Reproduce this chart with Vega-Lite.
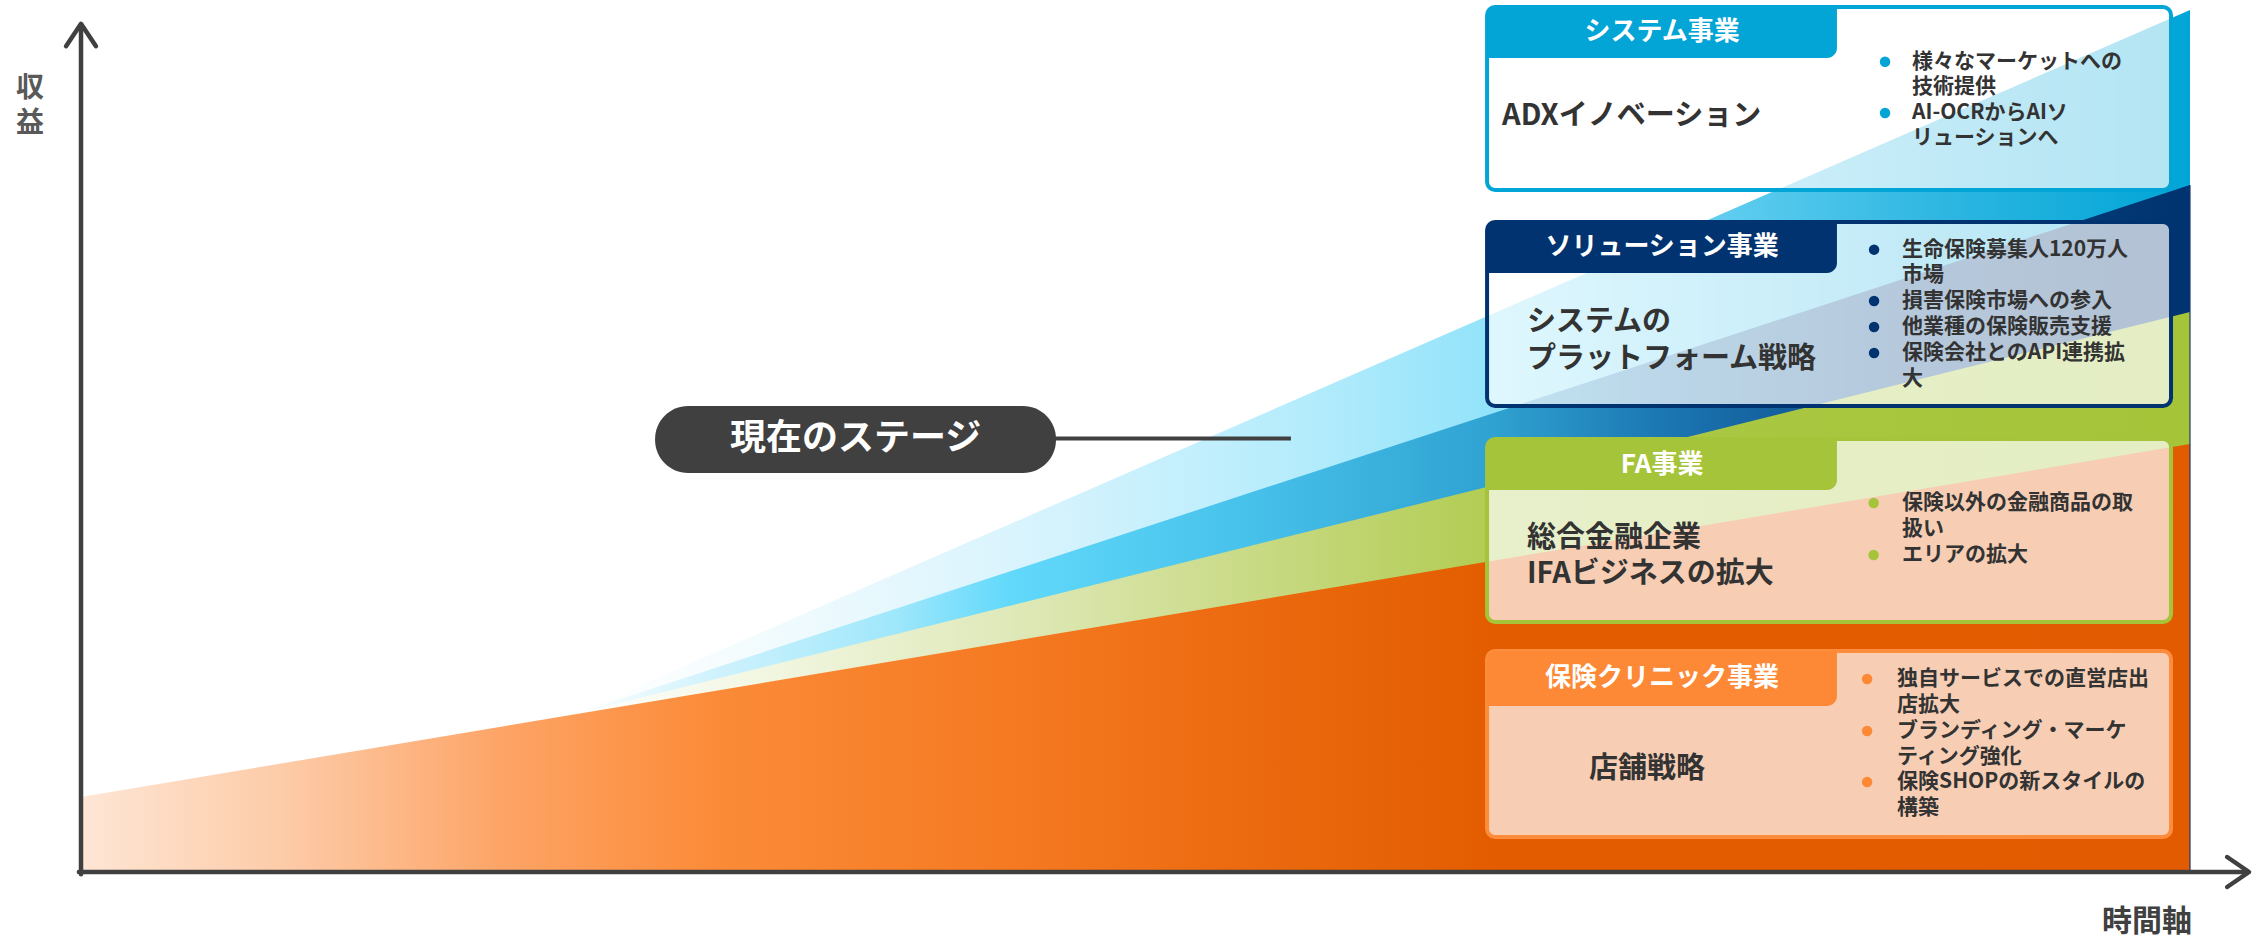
{
  "$schema": "https://vega.github.io/schema/vega-lite/v6.json",
  "width": 2109,
  "height": 862,
  "padding": {"left": 81, "top": 10, "right": 69, "bottom": 67},
  "autosize": {"type": "none"},
  "background": "white",
  "config": {"view": {"stroke": null}},
  "datasets": {
    "cyan": [{"u": 23.3, "v": 18.25, "v2": 0}, {"u": 100, "v": 100, "v2": 0}],
    "blue": [{"u": 23.3, "v": 18.25, "v2": 0}, {"u": 100, "v": 79.7, "v2": 0}],
    "green": [{"u": 23.3, "v": 18.25, "v2": 0}, {"u": 100, "v": 64.97, "v2": 0}],
    "orange": [{"u": 0, "v": 8.7, "v2": 0}, {"u": 100, "v": 49.65, "v2": 0}],
    "edge": [{"u": 100, "v": 0, "v2": 79.7}],
    "axes": [
      {"g": "ya", "i": 0, "u": 0, "v": -0.25},
      {"g": "ya", "i": 1, "u": 0, "v": 98.3},
      {"g": "yh", "i": 0, "u": -0.71, "v": 95.8},
      {"g": "yh", "i": 1, "u": 0, "v": 98.4},
      {"g": "yh", "i": 2, "u": 0.71, "v": 95.8},
      {"g": "xa", "i": 0, "u": -0.1, "v": 0},
      {"g": "xa", "i": 1, "u": 102.75, "v": 0},
      {"g": "xh", "i": 0, "u": 101.76, "v": 1.74},
      {"g": "xh", "i": 1, "u": 102.8, "v": 0},
      {"g": "xh", "i": 2, "u": 101.76, "v": -1.74}
    ],
    "pill": [{"u": 27.22, "u2": 46.23, "v": 54.06, "v2": 46.29}],
    "connector": [{"u": 46.0, "u2": 57.37, "v": 50.3}],
    "pilltext": [{"u": 36.73, "v": 50.2, "text": "現在のステージ"}],
    "boxes": [
      {"biz": "system", "u": 66.67, "u2": 99.1, "v": 100.35, "v2": 79.12},
      {"biz": "solution", "u": 66.67, "u2": 99.1, "v": 75.41, "v2": 54.06},
      {"biz": "fa", "u": 66.67, "u2": 99.1, "v": 50.23, "v2": 29.0},
      {"biz": "clinic", "u": 66.67, "u2": 99.1, "v": 25.64, "v2": 4.06}
    ],
    "tabs": [
      {"biz": "system", "u": 66.67, "u2": 83.26, "v": 100.35, "v2": 94.43},
      {"biz": "solution", "u": 66.67, "u2": 83.26, "v": 75.41, "v2": 69.49},
      {"biz": "fa", "u": 66.67, "u2": 83.26, "v": 50.23, "v2": 44.32},
      {"biz": "clinic", "u": 66.67, "u2": 83.26, "v": 25.64, "v2": 19.26}
    ],
    "titles": [
      {"u": 74.97, "v": 97.45, "text": "システム事業"},
      {"u": 74.97, "v": 72.45, "text": "ソリューション事業"},
      {"u": 74.97, "v": 47.27, "text": "FA事業"},
      {"u": 74.97, "v": 22.45, "text": "保険クリニック事業"}
    ],
    "mains": [
      {"u": 67.38, "v": 87.7, "text": "ADXイノベーション"},
      {"u": 68.56, "v": 63.75, "text": "システムの"},
      {"u": 68.56, "v": 59.55, "text": "プラットフォーム戦略"},
      {"u": 68.56, "v": 38.7, "text": "総合金融企業"},
      {"u": 68.56, "v": 34.6, "text": "IFAビジネスの拡大"},
      {"u": 71.5, "v": 11.95, "text": "店舗戦略"}
    ],
    "dots": [
      {"biz": "system", "u": 85.54, "v": 94.0},
      {"biz": "system", "u": 85.54, "v": 88.05},
      {"biz": "solution", "u": 85.02, "v": 72.2},
      {"biz": "solution", "u": 85.02, "v": 66.24},
      {"biz": "solution", "u": 85.02, "v": 63.23},
      {"biz": "solution", "u": 85.02, "v": 60.21},
      {"biz": "fa", "u": 85.0, "v": 42.81},
      {"biz": "fa", "u": 85.0, "v": 36.77},
      {"biz": "clinic", "u": 84.69, "v": 22.39},
      {"biz": "clinic", "u": 84.69, "v": 16.36},
      {"biz": "clinic", "u": 84.69, "v": 10.44}
    ],
    "bullets": [
      {"u": 86.82, "v": 94.0, "text": "様々なマーケットへの"},
      {"u": 86.82, "v": 91.1, "text": "技術提供"},
      {"u": 86.82, "v": 88.05, "text": "AI-OCRからAIソ"},
      {"u": 86.82, "v": 85.1, "text": "リューションへ"},
      {"u": 86.34, "v": 72.2, "text": "生命保険募集人120万人"},
      {"u": 86.34, "v": 69.26, "text": "市場"},
      {"u": 86.34, "v": 66.24, "text": "損害保険市場への参入"},
      {"u": 86.34, "v": 63.23, "text": "他業種の保険販売支援"},
      {"u": 86.34, "v": 60.21, "text": "保険会社とのAPI連携拡"},
      {"u": 86.34, "v": 57.25, "text": "大"},
      {"u": 86.34, "v": 42.81, "text": "保険以外の金融商品の取"},
      {"u": 86.34, "v": 39.75, "text": "扱い"},
      {"u": 86.34, "v": 36.77, "text": "エリアの拡大"},
      {"u": 86.11, "v": 22.39, "text": "独自サービスでの直営店出"},
      {"u": 86.11, "v": 19.35, "text": "店拡大"},
      {"u": 86.11, "v": 16.36, "text": "ブランディング・マーケ"},
      {"u": 86.11, "v": 13.38, "text": "ティング強化"},
      {"u": 86.11, "v": 10.44, "text": "保険SHOPの新スタイルの"},
      {"u": 86.11, "v": 7.42, "text": "構築"}
    ],
    "ylabel": [
      {"u": -2.42, "v": 90.85, "text": "収"},
      {"u": -2.42, "v": 86.75, "text": "益"}
    ],
    "xlabel": [{"u": 97.96, "v": -5.8, "text": "時間軸"}]
  },
  "encoding": {
    "x": {"field": "u", "type": "quantitative", "scale": {"domain": [0, 100], "nice": false, "zero": false}, "axis": null},
    "y": {"field": "v", "type": "quantitative", "scale": {"domain": [0, 100], "nice": false, "zero": false}, "axis": null, "stack": null}
  },
  "layer": [
    {
      "data": {"name": "cyan"},
      "mark": {"type": "area", "interpolate": "linear", "color": {"gradient": "linear", "x1": 0, "x2": 1, "y1": 0, "y2": 0, "stops": [
        {"offset": 0, "color": "#ffffff"},
        {"offset": 0.1, "color": "#f5fcfe"},
        {"offset": 0.27, "color": "#daf4fd"},
        {"offset": 0.45, "color": "#b5ecfc"},
        {"offset": 0.57, "color": "#92e3fa"},
        {"offset": 0.71, "color": "#5fcdf0"},
        {"offset": 0.85, "color": "#2db6e1"},
        {"offset": 1, "color": "#00a5d6"}
      ]}},
      "encoding": {"y2": {"field": "v2"}}
    },
    {
      "data": {"name": "blue"},
      "mark": {"type": "area", "interpolate": "linear", "color": {"gradient": "linear", "x1": 0, "x2": 1, "y1": 0, "y2": 0, "stops": [
        {"offset": 0, "color": "#ffffff"},
        {"offset": 0.08, "color": "#d3f3fd"},
        {"offset": 0.2, "color": "#9fe7fb"},
        {"offset": 0.27, "color": "#62d9fb"},
        {"offset": 0.42, "color": "#46c1ea"},
        {"offset": 0.57, "color": "#2fa2d1"},
        {"offset": 0.67, "color": "#1c78b3"},
        {"offset": 0.8, "color": "#0d4f8e"},
        {"offset": 0.92, "color": "#033b78"},
        {"offset": 1, "color": "#00336f"}
      ]}},
      "encoding": {"y2": {"field": "v2"}}
    },
    {
      "data": {"name": "green"},
      "mark": {"type": "area", "interpolate": "linear", "color": {"gradient": "linear", "x1": 0, "x2": 1, "y1": 0, "y2": 0, "stops": [
        {"offset": 0, "color": "#ffffff"},
        {"offset": 0.1, "color": "#f4f8e6"},
        {"offset": 0.27, "color": "#dfe9b9"},
        {"offset": 0.42, "color": "#c9da85"},
        {"offset": 0.57, "color": "#b2cc52"},
        {"offset": 0.75, "color": "#a8c63f"},
        {"offset": 1, "color": "#a5c438"}
      ]}},
      "encoding": {"y2": {"field": "v2"}}
    },
    {
      "data": {"name": "orange"},
      "mark": {"type": "area", "interpolate": "linear", "color": {"gradient": "linear", "x1": 0, "x2": 1, "y1": 0, "y2": 0, "stops": [
        {"offset": 0, "color": "#fee6d5"},
        {"offset": 0.1, "color": "#fdcaa6"},
        {"offset": 0.2, "color": "#fda466"},
        {"offset": 0.3, "color": "#fb8b38"},
        {"offset": 0.44, "color": "#f57a22"},
        {"offset": 0.55, "color": "#ec6a10"},
        {"offset": 0.67, "color": "#e35d00"},
        {"offset": 1, "color": "#e35b00"}
      ]}},
      "encoding": {"y2": {"field": "v2"}}
    },
    {
      "data": {"name": "edge"},
      "mark": {"type": "rule", "color": "#1a3a6e", "strokeWidth": 1.2},
      "encoding": {"y2": {"field": "v2"}}
    },
    {
      "data": {"name": "axes"},
      "mark": {"type": "line", "color": "#404040", "strokeWidth": 4.5, "strokeCap": "round", "strokeJoin": "round"},
      "encoding": {"detail": {"field": "g"}, "order": {"field": "i"}}
    },
    {
      "data": {"name": "connector"},
      "mark": {"type": "rule", "color": "#404040", "strokeWidth": 4},
      "encoding": {"x2": {"field": "u2"}}
    },
    {
      "data": {"name": "pill"},
      "mark": {"type": "rect", "color": "#404040", "cornerRadius": 33},
      "encoding": {"x2": {"field": "u2"}, "y2": {"field": "v2"}}
    },
    {
      "data": {"name": "pilltext"},
      "mark": {"type": "text", "font": "Noto Sans CJK JP", "fontWeight": "bold", "fontSize": 36, "color": "#ffffff", "align": "center", "baseline": "middle"},
      "encoding": {"text": {"field": "text"}}
    },
    {
      "data": {"name": "boxes"},
      "mark": {"type": "rect", "fill": "#ffffff", "fillOpacity": 0.7, "strokeWidth": 4, "cornerRadius": 8},
      "encoding": {
        "x2": {"field": "u2"}, "y2": {"field": "v2"},
        "stroke": {"field": "biz", "type": "nominal", "scale": {"domain": ["system", "solution", "fa", "clinic"], "range": ["#03a4d6", "#00336f", "#a5c43a", "#fd8d3c"]}, "legend": null}
      }
    },
    {
      "data": {"name": "tabs"},
      "mark": {"type": "rect", "cornerRadiusTopLeft": 8, "cornerRadiusBottomRight": 10},
      "encoding": {
        "x2": {"field": "u2"}, "y2": {"field": "v2"},
        "fill": {"field": "biz", "type": "nominal", "scale": {"domain": ["system", "solution", "fa", "clinic"], "range": ["#03a4d6", "#00336f", "#a5c43a", "#fd8835"]}, "legend": null}
      }
    },
    {
      "data": {"name": "titles"},
      "mark": {"type": "text", "font": "Noto Sans CJK JP", "fontWeight": "bold", "fontSize": 26, "color": "#ffffff", "align": "center", "baseline": "middle"},
      "encoding": {"text": {"field": "text"}}
    },
    {
      "data": {"name": "mains"},
      "mark": {"type": "text", "font": "Noto Sans CJK JP", "fontWeight": "bold", "fontSize": 29, "color": "#333333", "align": "left", "baseline": "middle"},
      "encoding": {"text": {"field": "text"}}
    },
    {
      "data": {"name": "dots"},
      "mark": {"type": "point", "shape": "circle", "filled": true, "size": 110, "opacity": 1},
      "encoding": {
        "color": {"field": "biz", "type": "nominal", "scale": {"domain": ["system", "solution", "fa", "clinic"], "range": ["#03a4d6", "#00336f", "#a5c43a", "#fd8835"]}, "legend": null}
      }
    },
    {
      "data": {"name": "bullets"},
      "mark": {"type": "text", "font": "Noto Sans CJK JP", "fontWeight": "bold", "fontSize": 21, "color": "#333333", "align": "left", "baseline": "middle"},
      "encoding": {"text": {"field": "text"}}
    },
    {
      "data": {"name": "ylabel"},
      "mark": {"type": "text", "font": "Noto Sans CJK JP", "fontWeight": "bold", "fontSize": 28, "color": "#595959", "align": "center", "baseline": "middle"},
      "encoding": {"text": {"field": "text"}}
    },
    {
      "data": {"name": "xlabel"},
      "mark": {"type": "text", "font": "Noto Sans CJK JP", "fontWeight": "bold", "fontSize": 30, "color": "#404040", "align": "center", "baseline": "middle"},
      "encoding": {"text": {"field": "text"}}
    }
  ]
}
